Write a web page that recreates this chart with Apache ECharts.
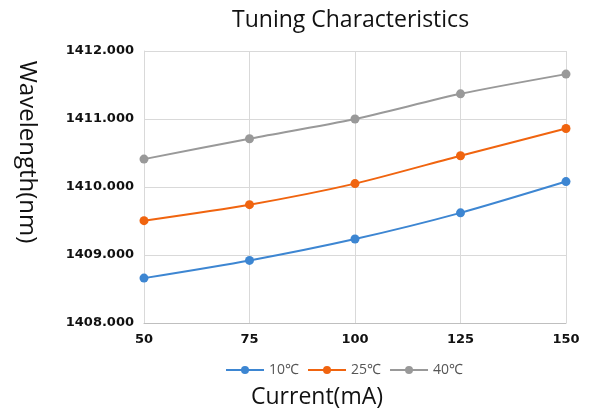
<!DOCTYPE html>
<html style="height: 100%">
<head>
    <meta charset="utf-8">
</head>
<body style="height: 100%; margin: 0; background: #fff">
<div id="container" style="width: 600px; height: 415px"></div>
<script type="text/javascript" src="https://cdn.jsdelivr.net/npm/echarts@6/dist/echarts.min.js"></script>
<script type="text/javascript">
    var currents = ['50', '75', '100', '125', '150'];
    var temp10 = [1408.66, 1408.92, 1409.235, 1409.62, 1410.08];
    var temp25 = [1409.505, 1409.74, 1410.05, 1410.46, 1410.86];
    var temp40 = [1410.41, 1410.71, 1411.0, 1411.37, 1411.66];

    var dom = document.getElementById("container");
    var myChart = echarts.init(dom);
    var font = 'Open Sans';
    var tickFont = 'DejaVu Sans';

    function makeSeries(name, data, color) {
        return {
            name: name,
            type: 'line',
            data: data,
            smooth: 0.25,
            symbol: 'circle',
            symbolSize: 9,
            lineStyle: { width: 2, color: color },
            itemStyle: { color: color },
            emphasis: { disabled: true }
        };
    }

    var option = {
        animation: false,
        textStyle: { fontFamily: font },
        title: {
            text: 'Tuning Characteristics',
            left: 227,
            top: 4,
            textStyle: { fontSize: 23, fontWeight: 'normal', color: '#111', fontFamily: font }
        },
        // axis titles sit off-centre in the original, so draw them as text
        graphic: [
            {
                type: 'text',
                x: 27, y: 152,
                rotation: -Math.PI / 2,
                style: {
                    text: 'Wavelength(nm)', fontSize: 24, fontFamily: font, fill: '#111',
                    align: 'center', verticalAlign: 'middle'
                }
            },
            {
                type: 'text',
                x: 317, y: 397,
                style: {
                    text: 'Current(mA)', fontSize: 23, fontFamily: font, fill: '#111',
                    align: 'center', verticalAlign: 'middle'
                }
            }
        ],
        legend: {
            top: 358,
            left: 220,
            itemWidth: 38,
            itemHeight: 10,
            itemGap: 8,
            textStyle: { fontSize: 14, color: '#555', fontFamily: font },
            data: ['10℃', '25℃', '40℃']
        },
        grid: { left: 144, right: 34, top: 51, bottom: 92 },
        xAxis: {
            type: 'category',
            data: currents,
            boundaryGap: false,
            axisLine: { lineStyle: { color: '#bfbfbf' } },
            axisTick: { show: false },
            axisLabel: { fontSize: 13, fontWeight: 'bold', color: '#111', margin: 10, fontFamily: tickFont },
            splitLine: { show: true, lineStyle: { color: '#d9d9d9' } }
        },
        yAxis: {
            type: 'value',
            min: 1408,
            max: 1412,
            interval: 1,
            axisLine: { show: true, lineStyle: { color: '#d9d9d9' } },
            axisTick: { show: false },
            axisLabel: {
                fontSize: 13, fontWeight: 'bold', color: '#111', margin: 10, fontFamily: tickFont,
                formatter: function (v) { return v.toFixed(3); }
            },
            splitLine: { lineStyle: { color: '#d9d9d9' } }
        },
        series: [
            makeSeries('10℃', temp10, '#3d86d2'),
            makeSeries('25℃', temp25, '#f0640f'),
            makeSeries('40℃', temp40, '#999999')
        ]
    };

    myChart.setOption(option);
</script>
</body>
</html>
